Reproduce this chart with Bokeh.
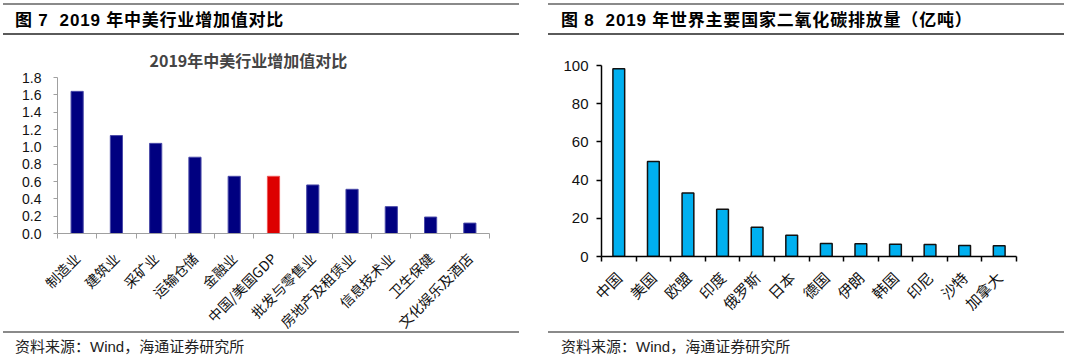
import math
from bokeh.plotting import figure
from bokeh.layouts import row, column
from bokeh.models import Div, Range1d, FixedTicker, PrintfTickFormatter, ColumnDataSource
from bokeh.embed import file_html
from bokeh.resources import INLINE

# ---------------- data ----------------
left_header = "图 7&nbsp;&nbsp;2019 年中美行业增加值对比"
left_chart_title = "2019年中美行业增加值对比"
industries = ["制造业", "建筑业", "采矿业", "运输仓储", "金融业", "中国/美国GDP",
              "批发与零售业", "房地产及租赁业", "信息技术业", "卫生保健", "文化娱乐及酒店"]
ratios = [1.64, 1.13, 1.04, 0.88, 0.66, 0.66, 0.56, 0.51, 0.31, 0.19, 0.12]
highlight = "中国/美国GDP"
left_y_ticks = [0.0, 0.2, 0.4, 0.6, 0.8, 1.0, 1.2, 1.4, 1.6, 1.8]

right_header = "图 8&nbsp;&nbsp;2019 年世界主要国家二氧化碳排放量（亿吨）"
countries = ["中国", "美国", "欧盟", "印度", "俄罗斯", "日本", "德国", "伊朗",
             "韩国", "印尼", "沙特", "加拿大"]
emissions = [98.3, 49.7, 33.3, 24.8, 15.3, 11.1, 6.8, 6.7, 6.4, 6.3, 5.8, 5.6]
right_y_ticks = [0, 20, 40, 60, 80, 100]

source_note = "资料来源：Wind，海通证券研究所"

CJK = "Noto Sans CJK SC"


def header_div(text, width, pad):
    html = (f'<div style="width:{width - pad}px;height:32px;line-height:32px;'
            f'border-top:2px solid #8a8a8a;border-bottom:2px solid #5a5a5a;'
            f'padding-left:{pad}px;font-family:\'Liberation Sans\',\'Noto Sans CJK SC\';'
            f'font-weight:bold;font-size:17px;letter-spacing:0.8px;color:#000;'
            f'white-space:nowrap;">{text}</div>')
    return Div(text=html, width=width, height=36, margin=(0, 0, 0, 0))


def footer_div(text, width, pad, top=0):
    html = (f'<div style="width:{width - pad}px;height:20px;line-height:20px;'
            f'border-top:2px solid #8a8a8a;padding-top:4px;padding-left:{pad}px;'
            f'font-family:\'Liberation Sans\',\'Noto Sans CJK SC\';font-size:15px;color:#222;'
            f'white-space:nowrap;">{text}</div>')
    return Div(text=html, width=width, height=26, margin=(top, 0, 0, 0))


def style_common(p):
    p.xgrid.visible = False
    p.ygrid.visible = False
    p.outline_line_color = None
    p.background_fill_color = "white"
    p.border_fill_color = None


# ---------------- left chart ----------------
LW = 528
LB = 112          # bottom border reserved for rotated labels
n1 = len(industries)
src1 = ColumnDataSource(dict(
    x=list(range(n1)),
    top=ratios,
    fill=["#dd0000" if c == highlight else "#000080" for c in industries],
    line=["#ee5555" if c == highlight else "#4a4aa8" for c in industries],
))
p1 = figure(width=LW, height=38 + 156 + LB, x_range=Range1d(-0.5, n1 - 0.5),
            y_range=Range1d(left_y_ticks[0], left_y_ticks[-1]),
            min_border_top=38, min_border_bottom=LB, min_border_left=54, min_border_right=42,
            output_backend="svg", toolbar_location=None, title=left_chart_title)
style_common(p1)
p1.vbar(x="x", top="top", width=0.31, fill_color="fill", line_color="line", line_width=1, source=src1)
p1.title.text_font = CJK
p1.title.text_font_size = "16px"
p1.title.text_font_style = "bold"
p1.title.align = "left"
p1.title.offset = 92
p1.title.standoff = 12

xa = p1.xaxis[0]
xa.ticker = FixedTicker(ticks=list(range(n1)), minor_ticks=[i - 0.5 for i in range(n1 + 1)])
xa.major_label_overrides = {i: name for i, name in enumerate(industries)}
xa.major_label_orientation = math.pi / 4
xa.major_label_text_font = CJK
xa.major_label_text_font_size = "14px"
xa.major_label_text_color = "#111111"
xa.major_tick_out = 0
xa.major_tick_in = 0
xa.minor_tick_out = 5
xa.minor_tick_in = 0
xa.axis_line_color = "#a0a0a0"
xa.minor_tick_line_color = "#a0a0a0"
xa.major_label_standoff = 17

ya = p1.yaxis[0]
ya.ticker = FixedTicker(ticks=left_y_ticks)
ya.formatter = PrintfTickFormatter(format="%.1f")
ya.major_label_text_font = "Liberation Sans"
ya.major_label_text_font_size = "14px"
ya.major_label_text_color = "#111111"
ya.major_tick_out = 4
ya.major_tick_in = 0
ya.minor_tick_out = 0
ya.minor_tick_in = 0
ya.axis_line_color = "#a0a0a0"
ya.major_tick_line_color = "#a0a0a0"
ya.major_label_standoff = 12

# ---------------- right chart ----------------
RW = 529
n2 = len(countries)
src2 = ColumnDataSource(dict(x=list(range(n2)), top=emissions))
p2 = figure(width=RW, height=292, x_range=Range1d(-0.5, n2 - 0.5),
            y_range=Range1d(right_y_ticks[0], right_y_ticks[-1]),
            min_border_top=26, min_border_bottom=75, min_border_left=53, min_border_right=61,
            output_backend="svg", toolbar_location=None)
style_common(p2)
p2.vbar(x="x", top="top", width=0.34, fill_color="#00b0f0", line_color="#111111",
        line_width=1.5, source=src2)

xb = p2.xaxis[0]
xb.ticker = FixedTicker(ticks=list(range(n2)), minor_ticks=[i - 0.5 for i in range(n2 + 1)])
xb.major_label_overrides = {i: name for i, name in enumerate(countries)}
xb.major_label_orientation = math.pi / 4
xb.major_label_text_font = CJK
xb.major_label_text_font_size = "15px"
xb.major_label_text_color = "#111111"
xb.major_tick_out = 0
xb.major_tick_in = 0
xb.minor_tick_out = 5
xb.minor_tick_in = 0
xb.axis_line_color = "#000000"
xb.axis_line_width = 1.5
xb.minor_tick_line_color = "#000000"
xb.minor_tick_line_width = 1.5
xb.major_label_standoff = 13

yb = p2.yaxis[0]
yb.ticker = FixedTicker(ticks=right_y_ticks)
yb.major_label_text_font = "Liberation Sans"
yb.major_label_text_font_size = "15px"
yb.major_label_text_color = "#111111"
yb.major_tick_out = 5
yb.major_tick_in = 0
yb.minor_tick_out = 0
yb.minor_tick_in = 0
yb.axis_line_color = "#000000"
yb.axis_line_width = 1.5
yb.major_tick_line_color = "#000000"
yb.major_tick_line_width = 1.5
yb.major_label_standoff = 8

# ---------------- layout ----------------
left_col = column(header_div(left_header, LW, 12), p1,
                  footer_div(source_note, LW, 12, top=292 - (38 + 156 + LB)),
                  spacing=0, margin=(0, 0, 0, 0))
right_col = column(header_div(right_header, RW, 13), p2, footer_div(source_note, RW, 13),
                   spacing=0, margin=(0, 0, 0, 0))
root = row(left_col, right_col, spacing=17, margin=(3, 0, 0, 3))

open("out.html", "w").write(file_html(root, INLINE))
